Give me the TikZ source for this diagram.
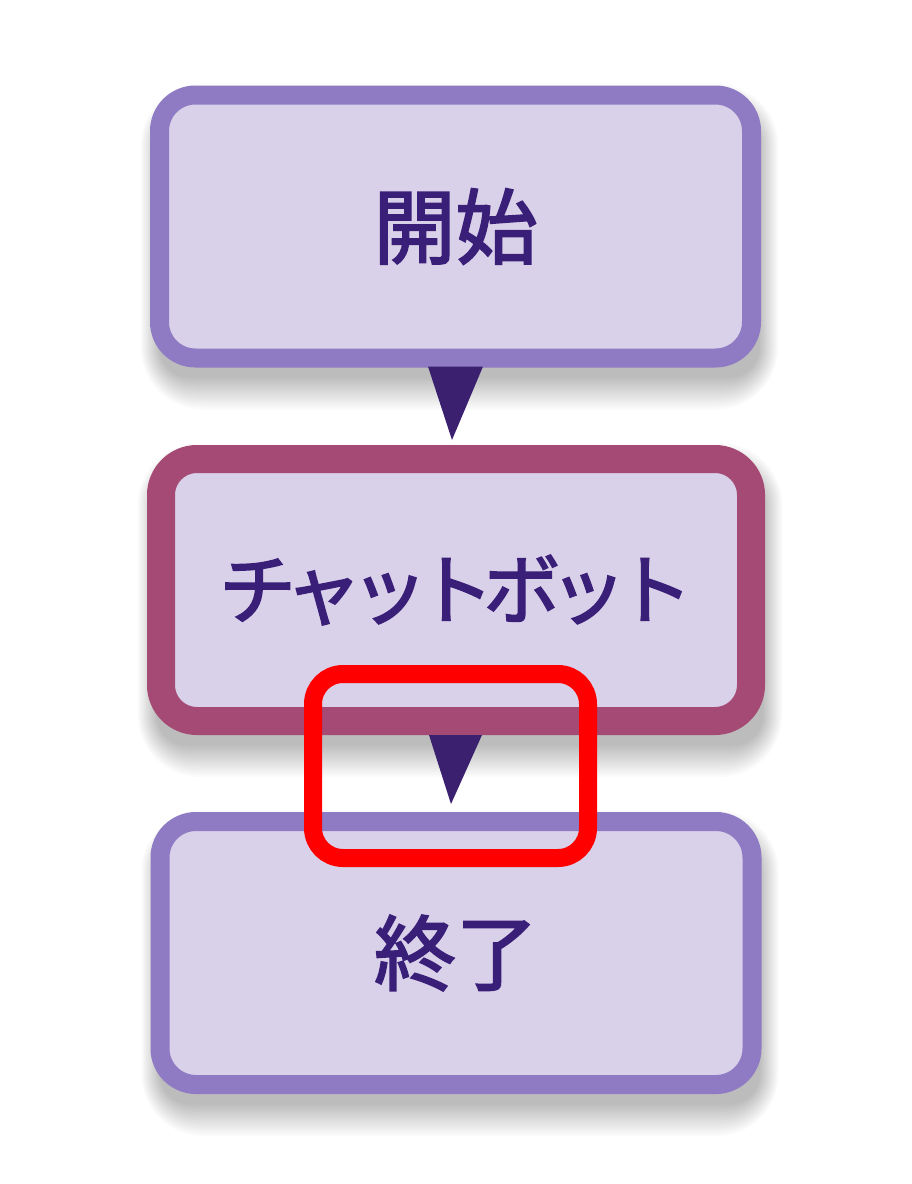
\documentclass[tikz,border=0pt]{standalone}
\usepackage{fontspec}
\setmainfont{Noto Sans CJK JP}[FakeBold=2.2]
\newfontfamily\katafont[LetterSpace=-14,FakeBold=2.2]{Noto Sans CJK JP}
\usetikzlibrary{calc}
\pgfdeclarelayer{background}
\pgfsetlayers{background,main}
\definecolor{fillc}{HTML}{D9D0E9}
\definecolor{borderc}{HTML}{8E7BC3}
\definecolor{botc}{HTML}{A44A74}
\definecolor{textc}{HTML}{3A1F78}
\definecolor{arrowc}{HTML}{3B2070}
\definecolor{hlred}{HTML}{FF0000}
\tikzset{
  flowbox/.style={draw=borderc, fill=fillc, line width=19pt, rounded corners=36pt,
    minimum width=592pt, minimum height=263pt, inner sep=0pt, text=textc},
  botbox/.style={flowbox, draw=botc, line width=28pt, minimum width=590pt, minimum height=262pt},
  tri/.style={fill=arrowc},
  shadowlayer/.style={fill=black, fill opacity=0.017},
  highlight/.style={draw=hlred, line width=18pt, rounded corners=30pt,
    minimum width=275pt, minimum height=184pt, inner sep=0pt, fill=none}
}
\begin{document}
\begin{tikzpicture}[x=1pt,y=-1pt]
\useasboundingbox (0,0) rectangle (912,1184);
\node[flowbox] (start) at (455.5,226.5) {\fontsize{82}{90}\selectfont 開始};
\node[botbox] (bot) at (456,590) {\katafont\fontsize{77}{90}\selectfont チャットボット};
\node[flowbox] (end) at (456,953) {\fontsize{82}{90}\selectfont 終了};
\begin{pgfonlayer}{background}
\fill[white] (0,0) rectangle (912,1184);
\foreach \b in {start,bot,end}{
  \foreach \g [evaluate=\g as \r using 40+\g, evaluate=\g as \h using 0.6*\g] in {-10,-8,...,22}{
    \fill[shadowlayer, rounded corners=\r pt]
      ([xshift=4pt-\h pt, yshift=-20pt-\g pt]\b.south west) rectangle
      ([xshift=4pt+\h pt, yshift=-20pt+\g pt]\b.north east);
  }
}
\end{pgfonlayer}
\fill[tri] ([xshift=-27.5pt,yshift=1pt]start.south) -- ([xshift=27.5pt,yshift=1pt]start.south) -- ([xshift=-4pt,yshift=5pt]bot.north) -- cycle;
\fill[tri] ([xshift=-27pt,yshift=0pt]bot.south) -- ([xshift=26pt,yshift=0pt]bot.south) -- ([xshift=-5pt,yshift=8pt]end.north) -- cycle;
\node[highlight] (hl) at (450.5,766) {};
\end{tikzpicture}
\end{document}
